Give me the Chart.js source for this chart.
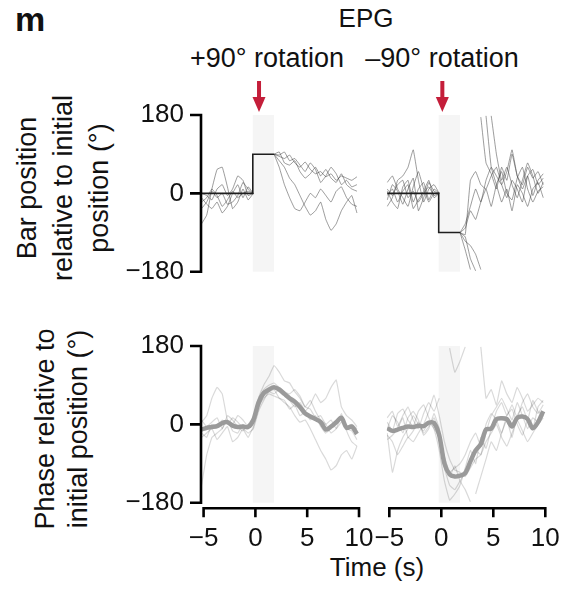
<!DOCTYPE html>
<html>
<head>
<meta charset="utf-8">
<script src="https://cdn.jsdelivr.net/npm/chart.js@4.4.0/dist/chart.umd.min.js"></script>
<style>
  body { margin: 0; background: #fff; }
  #wrap { position: relative; width: 565px; height: 590px; overflow: hidden;
          font-family: "Liberation Sans", Arial, sans-serif; color: #111; }
  canvas { position: absolute; left: 0; top: 0; }
  .lbl { position: absolute; white-space: nowrap; line-height: 1; transform: translateX(-50%); }
  .ytitle { position: absolute; white-space: nowrap; text-align: center; font-size: 27px;
            transform: translate(-50%, -50%) rotate(-90deg); }
</style>
</head>
<body>
<div id="wrap">
  <div class="lbl" style="left:15px; top:2px; font-size:34px; font-weight:bold; transform:none;">m</div>
  <div class="lbl" style="left:366px; top:5px; font-size:26px;">EPG</div>
  <div class="lbl" style="left:267px; top:45px; font-size:27px;">+90° rotation</div>
  <div class="lbl" style="left:442px; top:45px; font-size:27px;">–90° rotation</div>
  <div class="ytitle" style="left:63px; top:188px; line-height:36px;">Bar position<br>relative to initial<br>position (°)</div>
  <div class="ytitle" style="left:62px; top:429px; line-height:33px;">Phase relative to<br>initial position (°)</div>
  <div class="lbl" style="left:377px; top:554px; font-size:26px;">Time (s)</div>
  <!-- canvases wider than the page so the last x label never squeezes the plot -->
  <canvas id="barPlus" width="620" height="590"></canvas>
  <canvas id="barMinus" width="620" height="590"></canvas>
  <canvas id="phasePlus" width="620" height="590"></canvas>
  <canvas id="phaseMinus" width="620" height="590"></canvas>
</div>
<script>
/* sample times (s) shared by every trace */
const time = [-5.2, -4.7, -4.2, -3.7, -3.2, -2.7, -2.2, -1.7, -1.2, -0.7, -0.2,
              0.3, 0.8, 1.3, 1.8, 2.3, 2.8, 3.3, 3.8, 4.3, 4.8,
              5.3, 5.8, 6.3, 6.8, 7.3, 7.8, 8.3, 8.8, 9.3, 9.8];
const xTicks = [-5, 0, 5, 10];
const yTicks = [-180, 0, 180];
const shadeSpan = [-0.25, 1.8];
const arrowPlus = 0.35;
const arrowMinus = 0.1;

/* bar (stimulus) step */
const stimTime = [-5.2, -0.25, -0.25, 1.8];
const stimPlus = [0, 0, 90, 90];
const stimMinus = [0, 0, -90, -90];

/* bar position traces, +90 rotation */
const barPlusTraces = [
  [-20, -10, 10, -5, -30, -15, 5, -10, 0, 5, 0, null, null, null, 90, 85, 80, 88, 70, 60, 72, 55, 45, 50, 38, 45, 30, 40, 35, 30, 38],
  [-70, -50, 10, 55, 60, 15, -35, -20, 10, -15, 0, null, null, null, 90, 60, 20, -10, -35, -40, -20, 0, -10, 10, -5, -20, 5, 15, -10, -25, -30],
  [-10, -25, -35, -20, -45, -30, 0, 20, -10, 15, 0, null, null, null, 90, 75, 60, 35, 20, -5, -30, -50, -40, -20, -60, -85, -70, -40, -20, -5, -45],
  [0, -5, -15, 10, 20, -5, 10, 40, 30, -5, 0, null, null, null, 90, 95, 70, 65, 75, 50, 35, 45, 60, 40, 55, 35, 25, 45, 20, 10, 5],
  [-35, -20, 5, -10, 0, -25, -20, -5, 25, 10, 0, null, null, null, 90, 88, 95, 75, 80, 65, 50, 70, 55, 25, 40, 60, 45, 20, 30, 15, 20]
];

/* bar position traces, -90 rotation (null = wrap around ±180) */
const barMinusTraces = [
  [10, -5, 20, 30, -10, 5, -20, 0, 15, -5, 0, null, null, null, -90, -95, 30, 50, 20, 10, 40, 60, 20, -10, 30, 10, -20, 40, 55, 20, 35],
  [-30, -10, 30, 40, 60, 100, 30, -20, 10, 20, 0, null, null, null, -90, -130, -175, null, 175, 70, 45, 10, 60, 30, 90, 40, 20, 60, 35, 50, 20],
  [-15, 20, 5, -25, 10, 35, -40, -10, 25, 5, 0, null, null, null, -90, -100, -150, -178, null, 178, 60, 20, -20, 10, -40, 20, 0, -30, 10, 25, -10],
  [5, -20, -35, 15, 30, -20, 10, 25, -15, 10, 0, null, null, null, -90, -80, -40, -60, -20, 10, -30, 20, 50, 0, -15, 35, 60, 10, -20, 5, 15],
  [25, 40, 10, -10, -30, 15, 50, 10, -20, 0, 0, null, null, null, -90, -110, -120, -140, -175, null, 178, 90, 30, 60, 20, -10, 30, 70, 40, 0, 25],
  [-5, 10, -20, 5, 20, -35, -15, 5, 30, -10, 0, null, null, null, -90, -70, -30, 10, -20, 30, 60, 40, 20, 50, 100, 40, 10, 40, -5, 30, 45]
];

/* EPG phase, +90 rotation */
const phasePlusMean = [-12, -8, -6, -4, 3, 5, -3, -6, -5, -6, 10, 50, 72, 80, 85, 80, 70, 60, 52, 40, 25, 18, 12, 5, -12, -5, 5, 15, -8, -5, -22];
const phasePlusTraces = [
  [-140, -70, -30, -20, -10, 10, -15, -20, 0, -10, 15, 60, 90, 110, 135, 120, 100, 95, 75, 60, 40, 55, 30, 10, 0, -20, -10, 20, -15, -40, -50],
  [5, 20, 60, 85, 70, 10, 0, 20, 10, -5, 5, 40, 60, 70, 65, 60, 55, 35, 45, 20, 30, 45, 70, 50, 60, 85, 102, 40, 20, 10, -5],
  [-30, -20, -10, -35, -20, -5, -40, -30, -10, -20, -10, 30, 55, 75, 80, 60, 50, 40, 20, 5, 10, -10, -35, -60, -80, -105, -95, -70, -60, -80, -50],
  [10, -5, 5, 15, -10, 20, 10, -5, -15, 0, 15, 55, 80, 90, 95, 85, 75, 70, 80, 65, 40, 35, 15, 20, 0, 10, -10, 5, -5, 0, -10],
  [-20, -30, 0, -5, 10, 0, 15, 5, -10, -30, -5, 35, 65, 75, 70, 80, 65, 55, 40, 50, 30, 10, 20, -5, -20, -10, 0, 25, -10, -15, -35]
];

/* EPG phase, -90 rotation */
const phaseMinusMean = [-9, -15, -12, -8, -5, -6, -3, -4, 4, 3, -25, -90, -115, -120, -118, -112, -85, -60, -45, -12, -10, 12, 14, 12, -5, 15, 18, 12, -9, 5, 30];
const phaseMinusTraces = [
  [-20, -110, -60, -30, -10, 20, 0, -15, 5, -10, -30, -100, -140, -150, -130, -110, -90, -60, -70, -40, -20, 0, -30, -50, -20, 10, -15, -40, -20, 0, 15],
  [15, 30, -5, 20, 40, 10, -10, 25, 50, 30, 60, null, 175, 120, 145, 178, null, -160, -120, -80, -40, -60, -20, 10, -30, 20, 40, 10, 55, 30, 20],
  [-35, -25, -10, 15, -30, -15, 5, -20, -5, 15, -20, -75, -110, -100, -90, -70, -40, -20, -50, 0, 25, 10, -20, 20, 35, 0, -25, 10, -10, 40, 55],
  [5, -15, 25, 35, 10, -5, 30, 45, 15, -10, -60, -130, -174, -160, -140, -100, -60, -90, -30, -55, -10, 30, 50, 20, 45, 15, 50, 70, 40, 25, 45],
  [-10, 20, 5, -20, 15, 30, 10, -25, -10, 25, -10, -90, -120, -95, -130, -150, -178, null, 178, 60, 80, 45, 100, 70, 50, 85, 60, 30, 45, 60, 50],
  [-25, -40, -70, -50, -30, -40, -20, 0, 30, 67, 20, -40, -80, -105, -110, -120, -100, -80, -70, -20, 20, 40, 60, 35, 10, 50, 20, -10, 15, 5, 20]
];

const tickFont = {family: "'Liberation Sans', Arial, sans-serif", size: 26};
const fmt = (v) => (v < 0 ? '\u2212' + Math.abs(v) : String(v));
const pts = (xs, ys) => ys.map((v, i) => ({x: xs[i], y: v}));

/* offset axis spines (matplotlib style) */
const spines = {
    id: 'spines',
    afterDraw(chart, args, opts) {
        const {ctx, chartArea, scales: {x, y}} = chart;
        ctx.save();
        ctx.strokeStyle = '#000';
        ctx.lineWidth = 2.6;
        ctx.beginPath();
        if (opts.y) {
            const x0 = chartArea.left;
            ctx.moveTo(x0, y.getPixelForValue(180) - 1.3);
            ctx.lineTo(x0, y.getPixelForValue(-180) + 1.3);
            yTicks.forEach((v) => {
                const py = y.getPixelForValue(v);
                ctx.moveTo(x0 - 11, py);
                ctx.lineTo(x0, py);
            });
        }
        if (opts.x) {
            const y0 = chartArea.bottom + 5.5;
            ctx.moveTo(x.getPixelForValue(xTicks[0]) - 1.3, y0);
            ctx.lineTo(x.getPixelForValue(xTicks[xTicks.length - 1]) + 1.3, y0);
            xTicks.forEach((v) => {
                const px = x.getPixelForValue(v);
                ctx.moveTo(px, y0);
                ctx.lineTo(px, y0 + 9);
            });
        }
        ctx.stroke();
        ctx.restore();
    }
};

/* grey rotation window and red arrow */
const stim = {
    id: 'stim',
    beforeDatasetsDraw(chart) {
        const {ctx, chartArea, scales: {x}} = chart;
        const x1 = x.getPixelForValue(shadeSpan[0]);
        const x2 = x.getPixelForValue(shadeSpan[1]);
        ctx.save();
        ctx.fillStyle = '#f5f5f5';
        ctx.fillRect(x1, chartArea.top, x2 - x1, chartArea.bottom - chartArea.top);
        ctx.restore();
    },
    afterDraw(chart, args, opts) {
        if (opts.arrow === undefined || opts.arrow === null) return;
        const {ctx, chartArea, scales: {x}} = chart;
        const ax = x.getPixelForValue(opts.arrow);
        const top = chartArea.top - 34;
        ctx.save();
        ctx.fillStyle = '#c41e3a';
        ctx.fillRect(ax - 2, top, 4, 18);
        ctx.beginPath();
        ctx.moveTo(ax - 6.5, top + 16);
        ctx.lineTo(ax + 6.5, top + 16);
        ctx.lineTo(ax, chartArea.top - 3);
        ctx.closePath();
        ctx.fill();
        ctx.restore();
    }
};

function panel(id, opt) {
    const datasets = [];
    if (opt.mean) {
        datasets.push({data: pts(time, opt.mean), borderColor: '#9a9a9a', borderWidth: 4.5, tension: 0.3});
    }
    if (opt.stim) {
        datasets.push({data: pts(stimTime, opt.stim), borderColor: '#1e1e1e', borderWidth: 1.6});
    }
    opt.traces.forEach((tr) => {
        datasets.push({data: pts(time, tr), borderColor: opt.traceColor, borderWidth: opt.traceWidth, tension: 0.1});
    });

    new Chart(document.getElementById(id), {
        type: 'line',
        data: {datasets},
        options: {
            responsive: false,
            animation: false,
            layout: {padding: opt.pad},
            elements: {point: {radius: 0}},
            plugins: {
                legend: {display: false},
                tooltip: {enabled: false},
                spines: {x: opt.showX, y: opt.showY},
                stim: {arrow: opt.arrow}
            },
            scales: {
                x: {
                    type: 'linear', min: -5.25, max: 10.25,
                    display: opt.showX,
                    grid: {display: false, drawTicks: false},
                    border: {display: false},
                    afterBuildTicks: (s) => { s.ticks = xTicks.map((v) => ({value: v})); },
                    afterFit: (s) => { if (opt.showX) s.height = 50; },
                    ticks: {padding: 21, font: tickFont, color: '#111', callback: fmt, autoSkip: false, maxRotation: 0}
                },
                y: {
                    type: 'linear', min: -180, max: 180,
                    display: opt.showY,
                    grid: {display: false, drawTicks: false},
                    border: {display: false},
                    afterBuildTicks: (s) => { s.ticks = yTicks.map((v) => ({value: v})); },
                    afterFit: (s) => { if (opt.showY) s.width = 201; },
                    ticks: {padding: 17, font: tickFont, color: '#111', callback: fmt}
                }
            }
        },
        plugins: [spines, stim]
    });
}

const topTrace = 'rgba(60, 60, 60, 0.5)';
const lowTrace = 'rgba(0, 0, 0, 0.15)';

/* plot boxes: left/right panels end at x 361.6 / 547.9 on a 620 px canvas */
panel('barPlus', {
    traces: barPlusTraces, stim: stimPlus, traceColor: topTrace, traceWidth: 1,
    showX: false, showY: true, arrow: arrowPlus,
    pad: {left: 0, top: 115, right: 258.4, bottom: 318.3}
});
panel('barMinus', {
    traces: barMinusTraces, stim: stimMinus, traceColor: topTrace, traceWidth: 1,
    showX: false, showY: false, arrow: arrowMinus,
    pad: {left: 386.7, top: 115, right: 72.1, bottom: 318.3}
});
panel('phasePlus', {
    traces: phasePlusTraces, mean: phasePlusMean, traceColor: lowTrace, traceWidth: 1.2,
    showX: true, showY: true, arrow: null,
    pad: {left: 0, top: 346, right: 258.4, bottom: 37.3}
});
panel('phaseMinus', {
    traces: phaseMinusTraces, mean: phaseMinusMean, traceColor: lowTrace, traceWidth: 1.2,
    showX: true, showY: false, arrow: null,
    pad: {left: 386.7, top: 346, right: 72.1, bottom: 37.3}
});
</script>
</body>
</html>
